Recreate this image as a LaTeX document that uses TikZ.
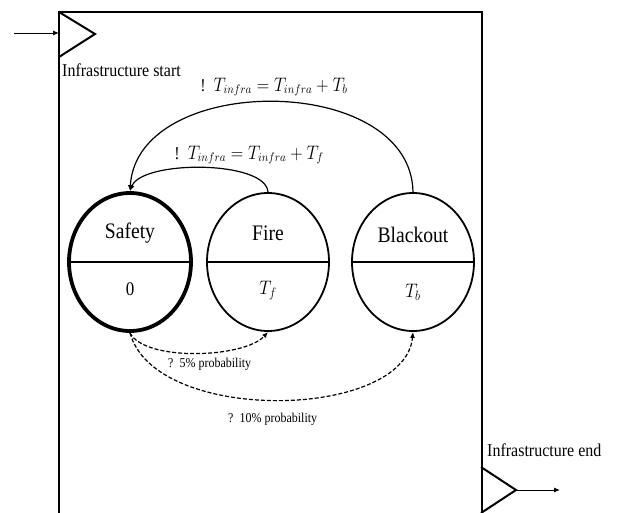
\documentclass[tikz,border=0pt]{standalone}
\usepackage{fontspec}
\usepackage{graphicx}
\setmainfont{Liberation Serif}
\usetikzlibrary{shapes.geometric,arrows.meta}
% text is set slightly taller than wide
\newcommand{\tallbox}[1]{\scalebox{1}[1.13]{#1}}

\begin{document}
\begin{tikzpicture}[x=1pt,y=-1pt,
  state/.style={draw,ellipse,minimum width=122pt,minimum height=138pt,inner sep=0pt,line width=1.8pt},
  initstate/.style={state,line width=3.8pt},
  divider/.style={line width=1.2pt},
  statename/.style={font=\fontsize{19.6}{22}\selectfont,inner sep=0pt},
  stateval/.style={font=\fontsize{17}{20}\selectfont,inner sep=0pt},
  note/.style={font=\fontsize{16}{19}\selectfont,inner sep=0pt},
  prob/.style={font=\fontsize{12}{14}\selectfont,inner sep=0pt},
  formula/.style={font=\fontsize{16}{19}\selectfont,inner sep=0pt},
  port/.style={line width=2pt,line join=miter},
  tip/.style={-{Latex[length=6pt,width=5pt]}},
  trans/.style={tip,line width=1.2pt},
  chance/.style={tip,line width=1.2pt,dash pattern=on 4pt off 2pt}]
\useasboundingbox (0,0) rectangle (621,512);
\fill[white] (0,0) rectangle (621,512);

% enclosing frame
\draw[line width=2.2pt] (59,515) -- (59,12) -- (482,12) -- (482,515);

% entry port
\coordinate (inTop) at (59,12);
\coordinate (inApex) at (95,34);
\coordinate (inBot) at (59,57);
\coordinate (inEnd) at (59,33);
\coordinate (inStart) at (14,33);
\draw[port] (inTop) -- (inApex) -- (inBot);
\draw[tip,line width=1pt] (inStart) -- (inEnd);
\node[note,anchor=west] (startlbl) at (62,70) {\tallbox{Infrastructure start}};

% exit port
\coordinate (outTop) at (481,467);
\coordinate (outApex) at (516,490);
\coordinate (outBot) at (481,513);
\coordinate (outEnd) at (560,490);
\draw[port] (outTop) -- (outApex) -- (outBot);
\draw[tip,line width=1pt] (outApex) -- (outEnd);
\node[note,anchor=west] (endlbl) at (487,450) {\tallbox{Infrastructure end}};

% states
\node[initstate] (safety) at (130,262) {};
\node[state] (fire) at (268,262) {};
\node[state] (blackout) at (413,262) {};
\foreach \s in {safety,fire,blackout}
  \draw[divider] (\s.west) -- (\s.east);

\node[statename] (safetyname) at (130,233) {\tallbox{Safety}};
\node[stateval] (safetyval) at (130,289) {\tallbox{0}};
\node[statename] (firename) at (268,233) {\tallbox{Fire}};
\node[stateval] (fireval) at (268,291) {\tallbox{$T_f$}};
\node[statename] (blackoutname) at (413,235) {\tallbox{Blackout}};
\node[stateval] (blackoutval) at (413,292) {\tallbox{$T_b$}};

% return transitions
\draw[trans] (blackout.north) .. controls (411,72) and (137,72) .. (safety.north);
\draw[trans] (fire.north) .. controls (266,160) and (142,160) .. (safety.north);
\node[formula] (fb) at (274,87) {\tallbox{!\ \ $T_{infra} = T_{infra} + T_b$}};
\node[formula] (ff) at (249,155) {\tallbox{!\ \ $T_{infra} = T_{infra} + T_f$}};

% random failures
\draw[chance] (safety.south) .. controls (145,362) and (245,358) .. (fire.south);
\draw[chance] (safety.south) .. controls (155,425) and (405,420) .. (blackout.south);
\node[prob,anchor=west] (p5) at (168,364) {\tallbox{?\ \ 5\% probability}};
\node[prob,anchor=west] (p10) at (228,419) {\tallbox{?\ \ 10\% probability}};
\end{tikzpicture}
\end{document}
